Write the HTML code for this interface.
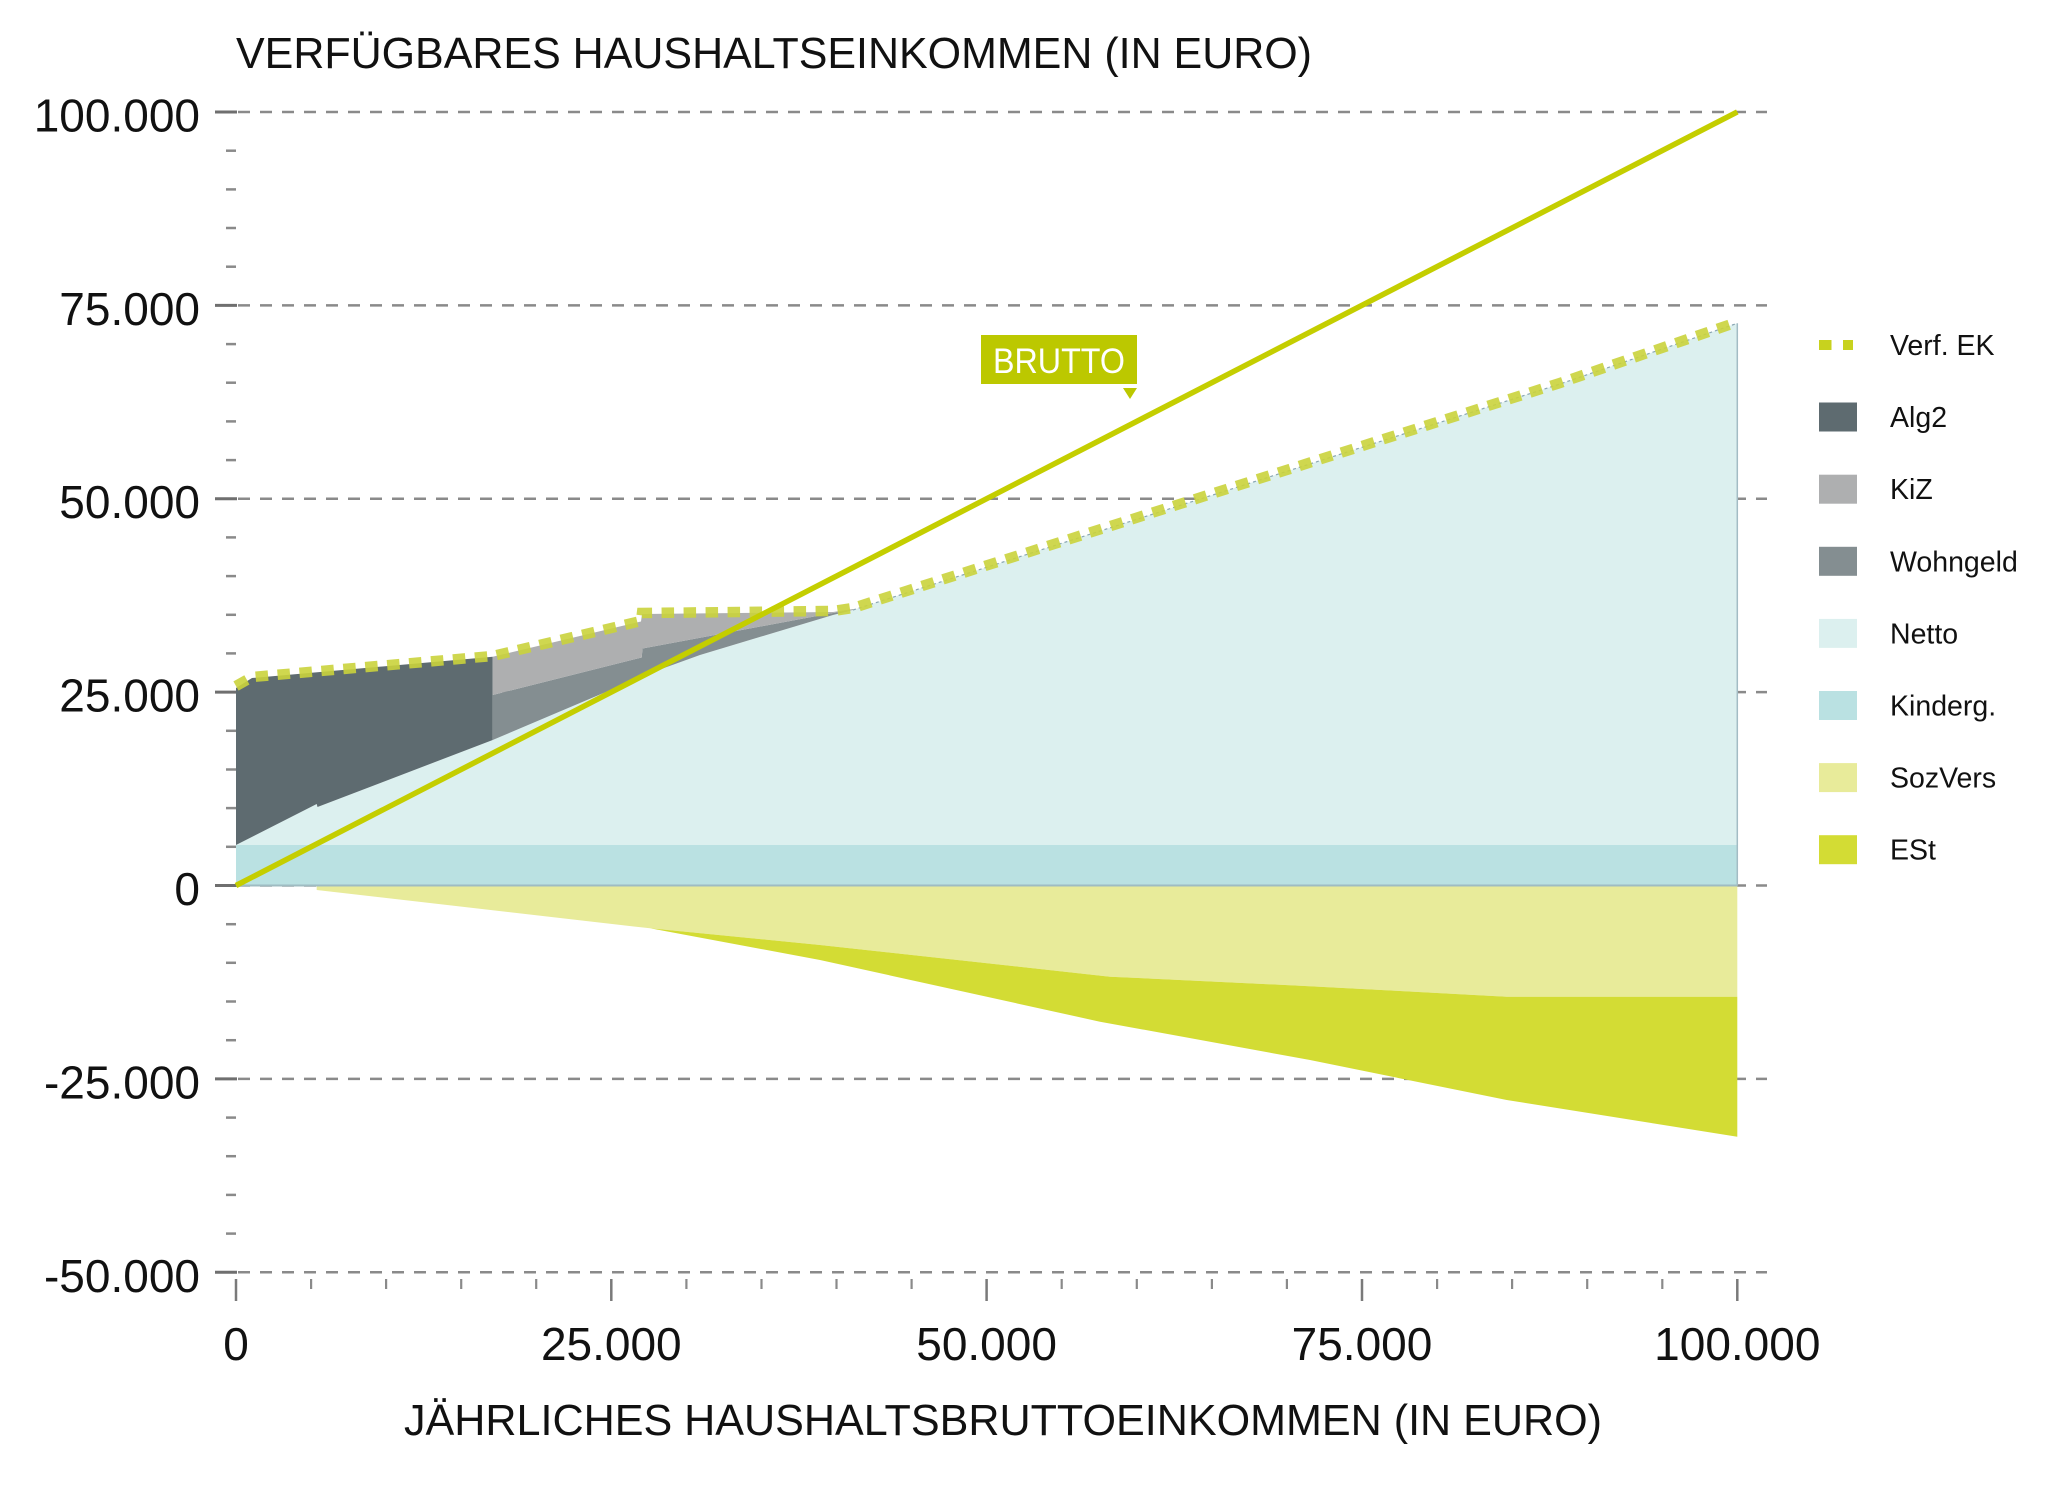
<!DOCTYPE html>
<html>
<head>
<meta charset="utf-8">
<style>
  html,body{margin:0;padding:0;background:#fff;}
  svg{display:block;}
  text{font-family:"Liberation Sans", sans-serif;}
</style>
</head>
<body>
<svg width="2048" height="1489" viewBox="0 0 2048 1489" xmlns="http://www.w3.org/2000/svg">
  <rect width="2048" height="1489" fill="#ffffff"/>

  <!-- Title -->
  <text x="236" y="68" font-size="44" fill="#111" textLength="1076" lengthAdjust="spacingAndGlyphs">VERFÜGBARES HAUSHALTSEINKOMMEN (IN EURO)</text>

  <!-- Gridlines -->
  <g stroke="#8a8a8a" stroke-width="2.5" stroke-dasharray="12 10" fill="none">
    <line x1="238" y1="112" x2="1767" y2="112"/>
    <line x1="238" y1="305.4" x2="1767" y2="305.4"/>
    <line x1="238" y1="498.7" x2="1767" y2="498.7"/>
    <line x1="238" y1="692.1" x2="1767" y2="692.1"/>
    <line x1="238" y1="885.5" x2="1767" y2="885.5"/>
    <line x1="238" y1="1078.9" x2="1767" y2="1078.9"/>
    <line x1="238" y1="1272.3" x2="1767" y2="1272.3"/>
  </g>

  <!-- Y ticks major -->
  <g stroke="#6f6f6f" stroke-width="3">
    <line x1="215" y1="112" x2="237" y2="112"/>
    <line x1="215" y1="305.4" x2="237" y2="305.4"/>
    <line x1="215" y1="498.7" x2="237" y2="498.7"/>
    <line x1="215" y1="692.1" x2="237" y2="692.1"/>
    <line x1="215" y1="885.5" x2="237" y2="885.5"/>
    <line x1="215" y1="1078.9" x2="237" y2="1078.9"/>
    <line x1="215" y1="1272.3" x2="237" y2="1272.3"/>
  </g>
  <!-- Y ticks minor -->
  <g stroke="#8a8a8a" stroke-width="2.5">
    <line x1="226" y1="150.7" x2="236" y2="150.7"/>
    <line x1="226" y1="189.4" x2="236" y2="189.4"/>
    <line x1="226" y1="228.0" x2="236" y2="228.0"/>
    <line x1="226" y1="266.7" x2="236" y2="266.7"/>
    <line x1="226" y1="344.1" x2="236" y2="344.1"/>
    <line x1="226" y1="382.7" x2="236" y2="382.7"/>
    <line x1="226" y1="421.4" x2="236" y2="421.4"/>
    <line x1="226" y1="460.1" x2="236" y2="460.1"/>
    <line x1="226" y1="537.4" x2="236" y2="537.4"/>
    <line x1="226" y1="576.1" x2="236" y2="576.1"/>
    <line x1="226" y1="614.8" x2="236" y2="614.8"/>
    <line x1="226" y1="653.4" x2="236" y2="653.4"/>
    <line x1="226" y1="730.8" x2="236" y2="730.8"/>
    <line x1="226" y1="769.5" x2="236" y2="769.5"/>
    <line x1="226" y1="808.1" x2="236" y2="808.1"/>
    <line x1="226" y1="846.8" x2="236" y2="846.8"/>
    <line x1="226" y1="924.2" x2="236" y2="924.2"/>
    <line x1="226" y1="962.8" x2="236" y2="962.8"/>
    <line x1="226" y1="1001.5" x2="236" y2="1001.5"/>
    <line x1="226" y1="1040.2" x2="236" y2="1040.2"/>
    <line x1="226" y1="1117.6" x2="236" y2="1117.6"/>
    <line x1="226" y1="1156.2" x2="236" y2="1156.2"/>
    <line x1="226" y1="1194.9" x2="236" y2="1194.9"/>
    <line x1="226" y1="1233.6" x2="236" y2="1233.6"/>
  </g>

  <!-- X ticks -->
  <g stroke="#7a7a7a" stroke-width="2.5">
    <line x1="236" y1="1279" x2="236" y2="1301"/>
    <line x1="611.3" y1="1279" x2="611.3" y2="1301"/>
    <line x1="986.6" y1="1279" x2="986.6" y2="1301"/>
    <line x1="1362" y1="1279" x2="1362" y2="1301"/>
    <line x1="1737.3" y1="1279" x2="1737.3" y2="1301"/>
  </g>
  <g stroke="#8a8a8a" stroke-width="2.2">
    <line x1="311.1" y1="1279" x2="311.1" y2="1289"/>
    <line x1="386.1" y1="1279" x2="386.1" y2="1289"/>
    <line x1="461.2" y1="1279" x2="461.2" y2="1289"/>
    <line x1="536.2" y1="1279" x2="536.2" y2="1289"/>
    <line x1="686.4" y1="1279" x2="686.4" y2="1289"/>
    <line x1="761.5" y1="1279" x2="761.5" y2="1289"/>
    <line x1="836.5" y1="1279" x2="836.5" y2="1289"/>
    <line x1="911.6" y1="1279" x2="911.6" y2="1289"/>
    <line x1="1061.7" y1="1279" x2="1061.7" y2="1289"/>
    <line x1="1136.8" y1="1279" x2="1136.8" y2="1289"/>
    <line x1="1211.9" y1="1279" x2="1211.9" y2="1289"/>
    <line x1="1286.9" y1="1279" x2="1286.9" y2="1289"/>
    <line x1="1437.1" y1="1279" x2="1437.1" y2="1289"/>
    <line x1="1512.1" y1="1279" x2="1512.1" y2="1289"/>
    <line x1="1587.2" y1="1279" x2="1587.2" y2="1289"/>
    <line x1="1662.3" y1="1279" x2="1662.3" y2="1289"/>
  </g>

  <!-- Y labels -->
  <g font-size="46" fill="#111" text-anchor="end">
    <text x="200" y="131.5">100.000</text>
    <text x="200" y="325">75.000</text>
    <text x="200" y="518.2">50.000</text>
    <text x="200" y="711.6">25.000</text>
    <text x="200" y="905">0</text>
    <text x="200" y="1098.4">-25.000</text>
    <text x="200" y="1291.8">-50.000</text>
  </g>

  <!-- X labels -->
  <g font-size="46" fill="#111" text-anchor="middle">
    <text x="236" y="1360">0</text>
    <text x="611.3" y="1360">25.000</text>
    <text x="986.6" y="1360">50.000</text>
    <text x="1362" y="1360">75.000</text>
    <text x="1737.3" y="1360">100.000</text>
  </g>

  <!-- X axis title -->
  <text x="404" y="1435" font-size="44" fill="#111" textLength="1198" lengthAdjust="spacingAndGlyphs">JÄHRLICHES HAUSHALTSBRUTTOEINKOMMEN (IN EURO)</text>

  <!-- Areas -->
  <!-- SozVers -->
  <polygon fill="#e8eb9a" points="316.7,885.5 1737.3,885.5 1737.3,996.7 1506.7,996.7 1400,991 1300,985.7 1110,976.7 820,945 650,928.3 316.7,890"/>
  <!-- ESt -->
  <polygon fill="#d3dc34" points="650,928.3 820,945 1110,976.7 1300,985.7 1400,991 1506.7,996.7 1737.3,996.7 1737.3,1136.7 1506.7,1100 1310,1060 1100,1021.7 820,960"/>
  <!-- Kinderg -->
  <rect x="236" y="845" width="1501.3" height="40.5" fill="#bae1e2"/>
  <line x1="236" y1="885.5" x2="1737.3" y2="885.5" stroke="#9fbcc2" stroke-width="2"/>
  <!-- Netto -->
  <polygon fill="#dcf0ef" points="236,845 316.7,804 317.5,807 492.7,740 653,672 700,655 833,615 853,610 1560,384 1737.3,323.3 1737.3,845"/>
  <line x1="1737.3" y1="323.3" x2="1737.3" y2="885.5" stroke="#a3bcc4" stroke-width="1.5"/>
  <polyline fill="none" stroke="#8aa6b3" stroke-width="1.2" stroke-dasharray="3 3" points="853,610 1560,384 1737.3,323.3"/>
  <!-- Alg2 -->
  <polygon fill="#5e6b70" points="236,688 252,678 492.7,656.7 492.7,740 317.5,807 316.7,804 236,845"/>
  <!-- Wohngeld -->
  <polygon fill="#848e91" points="492.7,695 641.7,657.5 642.5,648.5 833,613 853,610 833,615 700,655 653,672 492.7,740"/>
  <!-- KiZ -->
  <polygon fill="#aeafb0" points="492.7,656.7 641,621.5 642,614 833,612 853,609 853,610 833,613 642.5,648.5 641.7,657.5 492.7,695"/>

  <!-- Verf. EK dotted line -->
  <polyline fill="none" stroke="#cad33c" stroke-opacity="0.9" stroke-width="10.5" stroke-dasharray="12.5 9.5" points="236,686 252,677 492.7,656 641,621 642,613 833,611 853,608 1560,383 1737.3,322"/>

  <!-- Brutto line -->
  <line x1="236" y1="885.5" x2="1737.3" y2="111.9" stroke="#c4ce00" stroke-width="5.5"/>

  <!-- BRUTTO label -->
  <rect x="981" y="335" width="156" height="49" fill="#bcc800"/>
  <text x="1059" y="373" font-size="35" fill="#ffffff" text-anchor="middle" textLength="132" lengthAdjust="spacingAndGlyphs">BRUTTO</text>
  <polygon points="1123,388 1137,388 1130,399" fill="#bcc800"/>

  <!-- Legend -->
  <rect x="1819" y="340" width="12.5" height="10" fill="#c8d21e"/>
  <rect x="1843" y="340" width="10" height="10" fill="#c8d21e"/>
  <rect x="1819" y="402.5" width="38" height="29" fill="#5e6b70"/>
  <rect x="1819" y="474.7" width="38" height="29" fill="#aeafb0"/>
  <rect x="1819" y="546.8" width="38" height="29" fill="#848e91"/>
  <rect x="1819" y="618.9" width="38" height="29" fill="#dcf0ef"/>
  <rect x="1819" y="691" width="38" height="29" fill="#bae1e2"/>
  <rect x="1819" y="763.1" width="38" height="29" fill="#e8eb9a"/>
  <rect x="1819" y="835.2" width="38" height="29" fill="#d3dc34"/>
  <g font-size="28.5" fill="#111">
    <text x="1890" y="355">Verf. EK</text>
    <text x="1890" y="427">Alg2</text>
    <text x="1890" y="499.2">KiZ</text>
    <text x="1890" y="571.3">Wohngeld</text>
    <text x="1890" y="643.4">Netto</text>
    <text x="1890" y="715.5">Kinderg.</text>
    <text x="1890" y="787.6">SozVers</text>
    <text x="1890" y="859.7">ESt</text>
  </g>
</svg>
</body>
</html>
